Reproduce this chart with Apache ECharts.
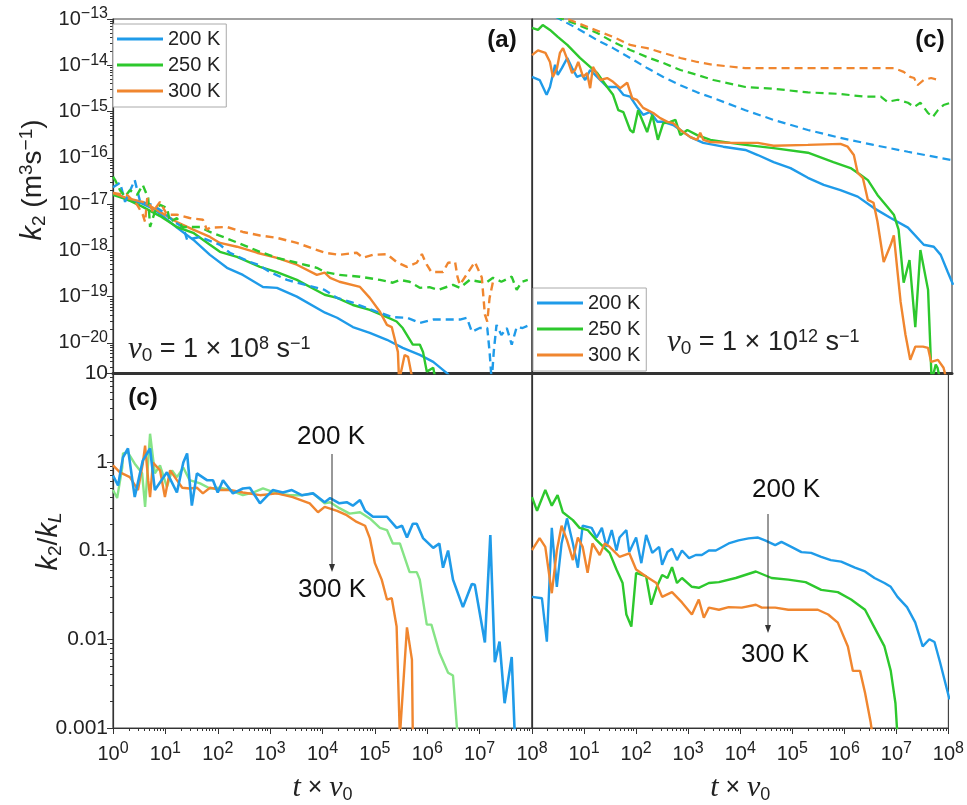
<!DOCTYPE html>
<html>
<head>
<meta charset="utf-8">
<script src="https://cdn.jsdelivr.net/npm/echarts@6/dist/echarts.min.js"></script>
<style>
html, body { margin: 0; padding: 0; background: #fff; }
#chart { width: 967px; height: 805px; }
</style>
</head>
<body>
<div id="chart"></div>
<script>
// temperatures shown in the legends
const temps = ['200 K', '250 K', '300 K'];

// (a) nu0 = 1e8 : solid and dashed k2 curves, [t*nu0, k2 in m^3/s]
const tlSolid200 = [[1,1.74e-17],[1.85,1.23e-17],[3.3,1.07e-17],[5.8,8e-18],[9,5.5e-18],[16.6,3.1e-18],[34,1.7e-18],[71,8e-19],[150,4.2e-19],[302,2.95e-19],[730,1.62e-19],[1350,1.55e-19],[3240,1.0e-19],[1.12e4,4.5e-20],[1.9e4,3.5e-20],[3.8e4,2.2e-20],[8e4,1.65e-20],[1.7e5,1.17e-20],[3.4e5,7.8e-21],[7.2e5,5.5e-21],[1.3e6,3.9e-21],[2.4e6,2.2e-21],[3e6,1.6e-21]];
const tlSolid250 = [[1,1.58e-17],[1.9,1.25e-17],[3.7,8.7e-18],[7.9,5.5e-18],[16.6,3.2e-18],[34,2.4e-18],[71,1.32e-18],[110,9.3e-19],[233,7.2e-19],[640,4.4e-19],[1350,3.4e-19],[3240,2.3e-19],[1.1e4,1.1e-19],[1.9e4,9.4e-20],[3.8e4,6.6e-20],[8e4,5.2e-20],[1.7e5,3.6e-20],[2.6e5,2.9e-20],[3.4e5,2.1e-20],[5.3e5,9.2e-21],[7.2e5,9.2e-21],[8.3e5,6.4e-21],[9.8e5,2.4e-21],[1.3e6,2.9e-21],[1.4e6,1.9e-21]];
const tlSolid300 = [[1,1.74e-17],[1.85,1.35e-17],[3.7,1.12e-17],[7.9,6.8e-18],[16.6,4.1e-18],[34,2.8e-18],[71,1.95e-18],[110,1.45e-18],[233,1.2e-18],[560,8.9e-19],[1350,6.9e-19],[3240,4.9e-19],[7800,2.95e-19],[1.1e4,3.3e-19],[1.4e4,2.55e-19],[2.1e4,2.1e-19],[5.2e4,1.62e-19],[8e4,9.4e-20],[1.25e5,4.7e-20],[1.7e5,2.45e-20],[2.1e5,2.2e-20],[2.75e5,6.4e-21],[2.9e5,1.5e-21],[3.7e5,5.5e-21],[4.3e5,5e-21],[5.3e5,1.5e-21]];
const tlDash200 = [[1,2.3e-17],[1.36,2.9e-17],[1.7,1.12e-17],[2.6,3.3e-17],[3.3,1.12e-17],[5.8,9.6e-18],[9,6.8e-18],[15,4.1e-18],[22,3.1e-18],[26,1.7e-18],[46,1.95e-18],[110,1.32e-18],[170,8.9e-19],[410,5.6e-19],[590,4.9e-19],[1000,3.4e-19],[2100,2.3e-19],[1.1e4,1.4e-19],[1.9e4,9.4e-20],[3.8e4,7.4e-20],[1.1e5,4.7e-20],[2.2e5,3.6e-20],[4.1e5,3.5e-20],[7.2e5,2.7e-20],[1.3e6,3.2e-20],[2.4e6,3.2e-20],[4.2e6,3.2e-20],[5.7e6,3.5e-20],[7.1e6,1.74e-20],[1e7,2.1e-20],[1.4e7,2.1e-20],[1.55e7,6.4e-21],[1.7e7,1.5e-21],[1.86e7,6.4e-21],[2.1e7,2.45e-20],[2.6e7,1.48e-20],[3.3e7,2.1e-20],[4.1e7,9.2e-21],[5.1e7,2.2e-20],[6.6e7,2.1e-20],[9.1e7,2.45e-20]];
const tlDash250 = [[1,3.9e-17],[1.1,3.3e-17],[1.36,2.0e-17],[1.7,1.45e-17],[2.1,2.0e-17],[2.9,1.6e-17],[3.7,2.6e-17],[4.7,1.35e-17],[5.1,3.2e-18],[6.3,6.8e-18],[7.9,9.6e-18],[10.7,8.3e-18],[12.3,4.1e-18],[16.6,5.0e-18],[21,3.2e-18],[46,3.2e-18],[71,2.5e-18],[126,1.95e-18],[302,1.32e-18],[640,9.3e-19],[1350,6.9e-19],[3240,5.4e-19],[7800,4.2e-19],[1.1e4,3.4e-19],[2.1e4,2.95e-19],[5.2e4,2.7e-19],[1.25e5,2.3e-19],[2.2e5,2.0e-19],[3.0e5,2.3e-19],[4.6e5,2.1e-19],[7.2e5,1.55e-19],[1.1e6,1.6e-19],[1.6e6,1.4e-19],[3.1e6,1.8e-19],[4.2e6,1.55e-19],[6.5e6,2.3e-19],[1e7,2.1e-19],[1.4e7,2.1e-19],[1.8e7,2.55e-19],[2.6e7,2.1e-19],[4.1e7,2.7e-19],[5.1e7,1.4e-19],[6.4e7,2.1e-19],[8.3e7,2.3e-19]];
const tlDash300 = [[1,1.74e-17],[1.85,1.58e-17],[2.9,9.6e-18],[3.7,5.9e-18],[4.1,4.1e-18],[4.5,1.35e-17],[5.8,6.8e-18],[7.9,1.12e-17],[10.7,5.9e-18],[16.6,5.9e-18],[29,5.0e-18],[52,4.6e-18],[62,2.8e-18],[71,3.1e-18],[150,3.2e-18],[302,2.5e-18],[640,2.1e-18],[1350,1.86e-18],[3240,1.45e-18],[1.1e4,8.9e-19],[2.1e4,8e-19],[4.5e4,8.9e-19],[5.9e4,6.9e-19],[9.2e4,8e-19],[1.7e5,8.3e-19],[2.6e5,5.6e-19],[4.1e5,4.4e-19],[6.3e5,5.4e-19],[7.9e5,8.3e-19],[9.8e5,4.9e-19],[1.2e6,3.4e-19],[2e6,3.4e-19],[2.5e6,5.4e-19],[3.4e6,5.6e-19],[3.8e6,2.6e-19],[4.2e6,1.8e-19],[8.1e6,5.6e-19],[1.1e7,2.6e-19],[1.26e7,4.1e-20],[1.4e7,2.9e-20],[1.55e7,9.4e-20],[1.8e7,2.1e-19]];

// (c) nu0 = 1e12 : solid and dashed k2 curves
const trSolid200 = [[1,5.6e-15],[1.4,4.8e-15],[1.8,2.6e-15],[1.9,2.3e-15],[2.2,3.4e-15],[2.75,1.02e-14],[3.1,6.2e-15],[3.7,8.7e-15],[4.7,1.44e-14],[5.8,8.7e-15],[7.2,5.6e-15],[9,6.2e-15],[10.3,4.8e-15],[12.8,7.9e-15],[17.4,5.6e-15],[27,3.4e-15],[42,3.4e-15],[55,2.3e-15],[74,2.1e-15],[100,1.26e-15],[131,8.5e-16],[178,9.8e-16],[245,6e-16],[316,6e-16],[490,5.1e-16],[670,4e-16],[1040,2.8e-16],[1830,2.1e-16],[4400,1.74e-16],[1.16e4,1.48e-16],[2e4,1.15e-16],[4e4,8.1e-17],[8.4e4,6e-17],[1.8e5,3.7e-17],[3.6e5,2.6e-17],[7.5e5,2e-17],[1.6e6,1.45e-17],[3.2e6,8.3e-18],[6.8e6,5e-18],[1.45e7,3.1e-18],[2.9e7,1.32e-18],[4.5e7,1.2e-18],[6.1e7,8e-19],[8.3e7,3.4e-19],[1.05e8,1.8e-19]];
const trSolid250 = [[1,6.4e-14],[1.3,5.8e-14],[1.6,7.4e-14],[2.2,5.8e-14],[3.1,4.1e-14],[4.7,2.75e-14],[8.2,1.44e-14],[12.8,9.2e-15],[17.4,6.8e-15],[27,3.4e-15],[35,2.3e-15],[44,1.07e-15],[55,9.7e-16],[74,4e-16],[85,3.5e-16],[105,1.07e-15],[156,3.6e-16],[195,8.5e-16],[250,2.45e-16],[316,5.6e-16],[430,6e-16],[540,6.6e-16],[670,3.1e-16],[910,4e-16],[1400,3.1e-16],[2500,2.45e-16],[6000,2.1e-16],[1.16e4,1.9e-16],[4e4,1.62e-16],[1.8e5,1.29e-16],[5.5e5,8.1e-17],[1.17e6,6e-17],[1.8e6,4.3e-17],[2.5e6,3.3e-17],[3.8e6,1.58e-17],[5.9e6,8.7e-18],[7.8e6,5.9e-18],[9.6e6,2.8e-18],[1.2e7,2e-19],[1.55e7,6.2e-19],[2.0e7,2.2e-20],[2.5e7,1.02e-18],[3.5e7,1.4e-19],[4.1e7,1.5e-21],[4.9e7,3.4e-21],[5.3e7,2.9e-21],[6e7,1.5e-21]];
const trSolid300 = [[1,1.66e-14],[1.3,2.1e-14],[1.8,1.85e-14],[2.2,1.18e-14],[2.5,5.6e-15],[3.0,8.7e-15],[3.4,1.85e-14],[3.9,2.35e-14],[4.9,1.18e-14],[5.8,6.8e-15],[6.6,7.9e-15],[7.6,1.18e-14],[9.4,5.6e-15],[11.2,6.8e-15],[12.8,3.2e-15],[14.5,9.2e-15],[20,4.8e-15],[27,5.3e-15],[35,4.4e-15],[48,3.2e-15],[65,4.2e-15],[81,1.95e-15],[100,1.78e-15],[131,1.2e-15],[204,9.3e-16],[277,7.2e-16],[380,6e-16],[490,5.6e-16],[670,4e-16],[1040,2.8e-16],[1400,2.45e-16],[1600,3.5e-16],[1830,2.45e-16],[2500,2.2e-16],[6000,2.1e-16],[1.16e4,2.1e-16],[2e4,2.1e-16],[4e4,1.82e-16],[1.8e5,1.9e-16],[7.5e5,2e-16],[1.03e6,1.74e-16],[1.35e6,1.15e-16],[1.6e6,4.7e-17],[2e6,3.7e-17],[2.5e6,1.23e-17],[3.2e6,1.07e-17],[3.8e6,4.2e-18],[5e6,5.6e-19],[6.8e6,1.32e-18],[7.8e6,2.1e-18],[9.3e6,2.95e-19],[1.05e7,7.7e-20],[1.3e7,1.5e-20],[1.6e7,4.3e-21],[2e7,8.3e-21],[2.8e7,8.3e-21],[3.5e7,7.8e-21],[4e7,3.9e-21],[5.4e7,4.3e-21],[6.9e7,2.9e-21],[8e7,1.5e-21]];
const trDash200 = [[1,2.1e-13],[3.1,1.05e-13],[8.2,5.8e-14],[17.4,3.5e-14],[35,2.35e-14],[74,1.44e-14],[156,8.7e-15],[316,5.6e-15],[670,3.7e-15],[1400,2.6e-15],[2850,1.95e-15],[1.16e4,1.07e-15],[4e4,6.6e-16],[1.8e5,4e-16],[7.5e5,2.7e-16],[3.2e6,1.9e-16],[1.45e7,1.35e-16],[9.5e7,9e-17]];
const trDash250 = [[1,1.8e-13],[6.1,8.2e-14],[17.4,5e-14],[35,3.2e-14],[74,2.15e-14],[156,1.5e-14],[316,1.12e-14],[670,7.9e-15],[1400,6.2e-15],[2850,4.8e-15],[1.16e4,3.4e-15],[4e4,3.1e-15],[1.8e5,2.6e-15],[7.5e5,2.4e-15],[2.1e6,2.1e-15],[4.4e6,2.1e-15],[5.9e6,1.62e-15],[9.3e6,1.8e-15],[1.45e7,1.55e-15],[1.9e7,1.26e-15],[2.5e7,1.55e-15],[3.5e7,9.3e-16],[4.3e7,7.6e-16],[5.4e7,1.07e-15],[6.9e7,1.38e-15],[9.5e7,1.55e-15]];
const trDash300 = [[1,2e-13],[5.3,9.5e-14],[12.8,6.4e-14],[35,4.1e-14],[74,2.75e-14],[156,2.35e-14],[316,1.85e-14],[670,1.44e-14],[1400,1.18e-14],[2850,1.02e-14],[1.16e4,8.7e-15],[4e4,8.7e-15],[1.8e5,8.7e-15],[7.5e5,8.7e-15],[3.2e6,8.7e-15],[7.8e6,8.7e-15],[1.2e7,7.2e-15],[1.6e7,5.6e-15],[1.9e7,5.3e-15],[2.2e7,3.7e-15],[2.9e7,4.8e-15],[4e7,5.3e-15],[5.6e7,4.8e-15]];

// k2/kL ratio, nu0 = 1e8
const bl200 = [[1,0.70],[1.25,0.54],[1.55,1.12],[1.93,1.41],[2.6,0.40],[3.7,1.03],[5.1,1.41],[6.3,0.48],[10.7,0.76],[16.6,0.45],[22,0.98],[26,1.24],[32,0.32],[40,0.74],[62,0.62],[81,0.62],[100,0.45],[126,0.62],[195,0.44],[302,0.50],[410,0.51],[640,0.34],[1120,0.48],[1750,0.45],[2600,0.48],[4000,0.42],[6600,0.44],[1.1e4,0.35],[1.4e4,0.39],[2.1e4,0.34],[2.9e4,0.35],[3.8e4,0.32],[5.2e4,0.37],[6.5e4,0.28],[9.2e4,0.24],[1.7e5,0.24],[2.6e5,0.18],[3.3e5,0.19],[4.1e5,0.14],[5.3e5,0.20],[6.3e5,0.20],[8.3e5,0.138],[1.3e6,0.107],[1.7e6,0.12],[2e6,0.064],[2.5e6,0.10],[3.1e6,0.047],[4.8e6,0.023],[7.1e6,0.042],[8.1e6,0.041],[1.26e7,0.0092],[1.6e7,0.149],[1.95e7,0.0055],[2.4e7,0.0094],[3e7,0.0019],[4.1e7,0.0063],[4.7e7,0.0008]];
const bl250 = [[1,0.48],[1.2,0.39],[1.5,0.86],[1.55,1.24],[1.93,1.27],[2.6,0.95],[3.6,0.74],[4.1,0.31],[5.1,2.07],[6.3,0.74],[7.9,0.91],[10.7,0.52],[13.4,0.80],[16.6,0.67],[22,0.86],[29,0.62],[46,0.57],[71,0.50],[110,0.51],[170,0.48],[302,0.42],[470,0.45],[730,0.50],[1350,0.44],[2400,0.42],[4200,0.42],[6600,0.44],[1.1e4,0.34],[1.4e4,0.35],[2.1e4,0.30],[3.3e4,0.26],[5.2e4,0.27],[8e4,0.23],[1.25e5,0.18],[1.7e5,0.17],[2.2e5,0.12],[3e5,0.12],[4.6e5,0.057],[6.3e5,0.057],[7.2e5,0.047],[9.8e5,0.0146],[1.2e6,0.0146],[1.7e6,0.0071],[2.5e6,0.0042],[3.1e6,0.0039],[3.8e6,0.0008]];
const bl300 = [[1,0.91],[1.36,0.76],[2.1,0.67],[3.0,0.48],[3.7,0.95],[4.1,1.52],[4.7,0.62],[5.1,0.40],[5.8,0.98],[7.9,0.80],[9.8,0.40],[12.3,0.80],[16.6,0.62],[21,0.51],[29,0.50],[40,0.51],[52,0.44],[71,0.51],[110,0.48],[170,0.48],[302,0.45],[640,0.42],[1350,0.44],[2700,0.40],[5700,0.34],[8200,0.27],[1.1e4,0.31],[1.9e4,0.28],[2.9e4,0.25],[4.5e4,0.21],[6.5e4,0.19],[8e4,0.138],[1e5,0.072],[1.35e5,0.047],[1.7e5,0.028],[2.1e5,0.029],[2.6e5,0.0139],[3e5,0.0008],[4.1e5,0.0136],[5.1e5,0.0059],[5.3e5,0.0008]];

// k2/kL ratio, nu0 = 1e12
const br200 = [[1,0.030],[1.55,0.029],[1.93,0.0094],[2.4,0.18],[3.0,0.039],[3.7,0.12],[4.7,0.23],[6.1,0.12],[7.6,0.064],[9.4,0.19],[14,0.18],[17.4,0.14],[22,0.18],[27,0.11],[34,0.17],[42,0.10],[48,0.14],[65,0.17],[74,0.096],[100,0.14],[126,0.072],[156,0.15],[204,0.094],[277,0.11],[316,0.069],[400,0.096],[490,0.105],[610,0.078],[760,0.10],[1040,0.082],[1400,0.089],[1830,0.089],[2500,0.10],[3400,0.10],[6000,0.12],[9300,0.13],[1.45e4,0.137],[2.2e4,0.14],[3e4,0.13],[4.7e4,0.115],[6.2e4,0.125],[9.6e4,0.11],[1.5e5,0.096],[2.3e5,0.094],[3.6e5,0.085],[5.5e5,0.078],[8.7e5,0.075],[1.6e6,0.064],[2.5e6,0.058],[3.8e6,0.049],[5.9e6,0.043],[7.8e6,0.039],[1.05e7,0.030],[1.6e7,0.023],[2.3e7,0.0155],[3.2e7,0.0083],[4.3e7,0.0100],[5.4e7,0.0093],[6.9e7,0.0055],[1.05e8,0.0021]];
const br250 = [[1,0.40],[1.25,0.28],[1.8,0.48],[2.4,0.32],[3.1,0.42],[3.9,0.27],[6.1,0.22],[8.2,0.18],[11.7,0.17],[17.4,0.131],[31,0.094],[42,0.061],[55,0.043],[65,0.019],[81,0.0139],[100,0.056],[156,0.051],[195,0.0245],[250,0.039],[316,0.053],[400,0.049],[490,0.065],[610,0.043],[760,0.049],[1180,0.039],[1600,0.038],[2500,0.043],[3900,0.044],[8200,0.049],[2e4,0.058],[4e4,0.049],[8.4e4,0.047],[1.8e5,0.044],[3.6e5,0.036],[7.5e5,0.034],[1.35e6,0.028],[2.5e6,0.0215],[3.8e6,0.0135],[5.9e6,0.0083],[7.8e6,0.0044],[9.6e6,0.0019],[1.05e7,0.0008]];
const br300 = [[1,0.101],[1.4,0.138],[1.8,0.11],[2.4,0.033],[3.0,0.10],[3.7,0.19],[4.7,0.131],[6.1,0.078],[7.6,0.14],[9.4,0.11],[11.7,0.056],[14.5,0.12],[20,0.089],[25,0.12],[31,0.11],[48,0.085],[74,0.093],[100,0.061],[156,0.051],[245,0.043],[316,0.030],[490,0.034],[760,0.026],[1180,0.019],[1600,0.028],[2000,0.0175],[2500,0.0227],[3900,0.0215],[6000,0.023],[1.07e4,0.0227],[2e4,0.0245],[2.6e4,0.0227],[4.7e4,0.0227],[8.4e4,0.0215],[1.8e5,0.0215],[3.1e5,0.0215],[4.9e5,0.019],[7.5e5,0.0154],[1.17e6,0.0083],[1.46e6,0.0044],[2e6,0.0044],[2.5e6,0.0025],[3.2e6,0.00117],[3.5e6,0.0008]];

const FONT = 'Liberation Sans, Arial, sans-serif';
const SERIF = 'Liberation Serif, Times New Roman, serif';
const INK = '#222';
const C200 = '#1f9be9', C250 = '#2dc82d', C300 = '#f0862f', C250L = '#86e486';

// the k2 axes work in units of 1e-21 m^3/s so that tick maths stays well inside float precision;
// labels put the exponent back
const K_UNIT_EXP = -21;
const toUnit = d => d.map(p => [p[0], p[1] / Math.pow(10, K_UNIT_EXP)]);

const chart = echarts.init(document.getElementById('chart'));

function isPow(v) {
    const e = Math.log10(v);
    return Math.abs(e - Math.round(e)) < 1e-6 ? Math.round(e) : null;
}
function expText(r) { return r < 0 ? '\u2212' + (-r) : String(r); }
function powLabel(v) {
    const r = isPow(v);
    return r === null ? '' : '{b|10}{s|' + expText(r) + '}';
}
function kLabel(v) {
    const r = isPow(v);
    return r === null ? '' : '{b|10}{s|' + expText(r + K_UNIT_EXP) + '}';
}
function decLabel(v) {
    const r = isPow(v);
    if (r === null) return '';
    return r >= 0 ? String(Math.pow(10, r)) : Math.pow(10, r).toFixed(-r);
}
const labRich = {
    b: { fontSize: 20, fontFamily: FONT, color: INK, lineHeight: 26 },
    s: { fontSize: 16, fontFamily: FONT, color: INK, lineHeight: 15, verticalAlign: 'top' }
};
const tick = { show: true, length: 6, lineStyle: { color: '#333', width: 1 } };
const minor = { show: true, splitNumber: 9, length: 3, lineStyle: { color: '#333', width: 1 } };

function logAxis(grid, min, max, extra) {
    return Object.assign({
        type: 'log', logBase: 10, gridIndex: grid, min: min, max: max,
        axisLine: { show: true, onZero: false, lineStyle: { color: '#333', width: 1.2 } },
        axisTick: { show: false }, minorTick: { show: false },
        splitLine: { show: false }, minorSplitLine: { show: false },
        axisLabel: { show: false }
    }, extra || {});
}

function line(name, data, color, idx, dashed, width) {
    return {
        type: 'line', name: name, data: data, xAxisIndex: idx, yAxisIndex: idx,
        symbol: 'none', silent: true, clip: true, animation: false,
        lineStyle: { color: color, width: width || 2.4, type: dashed ? [8, 5] : 'solid' },
        itemStyle: { color: color }
    };
}

// k2 axis range in 1e-21 units: 10^-20.65 .. 10^-13
const topMin = Math.pow(10, 0.35), topMax = 1e8;

const nameRich = {
    k: { fontSize: 29, fontStyle: 'italic', fontFamily: FONT, color: INK, lineHeight: 32 },
    n: { fontSize: 28, fontFamily: FONT, color: INK, lineHeight: 32 },
    sub: { fontSize: 19, fontFamily: FONT, color: INK, lineHeight: 19, verticalAlign: 'bottom' },
    subi: { fontSize: 19, fontStyle: 'italic', fontFamily: FONT, color: INK, lineHeight: 19, verticalAlign: 'bottom' },
    sup: { fontSize: 19, fontFamily: FONT, color: INK, lineHeight: 19, verticalAlign: 'top' }
};
const xNameRich = {
    t: { fontSize: 30, fontStyle: 'italic', fontFamily: SERIF, color: INK, lineHeight: 32 },
    n: { fontSize: 25, fontFamily: FONT, color: INK, lineHeight: 32 },
    sub: { fontSize: 18, fontFamily: FONT, color: INK, lineHeight: 18, verticalAlign: 'bottom' }
};
const xName = '{t|t}{n| \u00d7 }{t|\u03bd}{sub|0}';

const nuRich = {
    v: { fontSize: 31, fontStyle: 'italic', fontFamily: SERIF, fill: INK, lineHeight: 30 },
    n: { fontSize: 27, fontFamily: FONT, fill: INK, lineHeight: 30 },
    sub: { fontSize: 19, fontFamily: FONT, fill: INK, lineHeight: 18, verticalAlign: 'bottom' },
    sup: { fontSize: 18, fontFamily: FONT, fill: INK, lineHeight: 17, verticalAlign: 'top' }
};

function txt(x, y, text, size, bold, align) {
    return { type: 'text', x: x, y: y, z: 10, style: {
        text: text, fontSize: size, fontFamily: FONT, fontWeight: bold ? 'bold' : 'normal',
        fill: '#111', align: align || 'center', verticalAlign: 'middle' } };
}
function arrow(x, y1, y2) {
    return [
        { type: 'line', z: 10, shape: { x1: x, y1: y1, x2: x, y2: y2 - 6 }, style: { stroke: '#333', lineWidth: 1 } },
        { type: 'polygon', z: 10, shape: { points: [[x - 3, y2 - 8], [x + 3, y2 - 8], [x, y2]] }, style: { fill: '#333' } }
    ];
}

const legendBase = {
    data: temps, orient: 'vertical', icon: 'rect', itemWidth: 46, itemHeight: 3, itemGap: 4,
    padding: [4, 6, 5, 4], borderColor: '#aaa', borderWidth: 1, backgroundColor: '#fff',
    textStyle: { fontSize: 20, fontFamily: FONT, color: INK, lineHeight: 22 },
    selectedMode: false, z: 8
};

const option = {
    animation: false,
    backgroundColor: '#fff',
    grid: [
        { left: 113, top: 19, width: 419, height: 354, show: true, borderColor: '#444', borderWidth: 1.2, backgroundColor: 'transparent' },
        { left: 532, top: 19, width: 420, height: 354, show: true, borderColor: '#444', borderWidth: 1.2, backgroundColor: 'transparent' },
        { left: 113, top: 373, width: 419, height: 356, show: true, borderColor: '#444', borderWidth: 1.2, backgroundColor: 'transparent' },
        { left: 532, top: 373, width: 420, height: 356, show: true, borderColor: '#444', borderWidth: 1.2, backgroundColor: 'transparent' }
    ],
    xAxis: [
        logAxis(0, 1, 1e8, { axisLine: { show: true, onZero: false, lineStyle: { color: '#333', width: 3 } } }),
        logAxis(1, 1, 1e8, { axisLine: { show: true, onZero: false, lineStyle: { color: '#333', width: 3 } } }),
        logAxis(2, 1, 1e8, {
            axisTick: tick, minorTick: minor,
            axisLabel: { show: true, formatter: powLabel, rich: labRich, margin: 13 },
            name: xName, nameLocation: 'middle', nameGap: 44, nameTextStyle: { rich: xNameRich }
        }),
        logAxis(3, 1, 1e8, {
            axisTick: tick, minorTick: minor,
            axisLabel: { show: true, formatter: powLabel, rich: labRich, margin: 13, showMinLabel: false },
            name: xName, nameLocation: 'middle', nameGap: 44, nameTextStyle: { rich: xNameRich }
        })
    ],
    yAxis: [
        logAxis(0, topMin, topMax, {
            axisTick: tick, minorTick: minor,
            axisLabel: { show: true, formatter: kLabel, rich: labRich, margin: 5 },
            name: '{k|k}{sub|2}{n| (m}{sup|3}{n|s}{sup|\u22121}{n|)}',
            nameLocation: 'middle', nameRotate: 90, nameGap: 64, nameMoveOverlap: false,
            nameTextStyle: { rich: nameRich, padding: [0, 0, 0, 32] }
        }),
        logAxis(1, topMin, topMax),
        logAxis(2, 1e-3, 10, {
            axisTick: tick, minorTick: minor,
            axisLabel: { show: true, formatter: decLabel, fontSize: 21, fontFamily: FONT, color: INK, margin: 5 },
            name: '{k|k}{sub|2}{n|/}{k|k}{subi|L}',
            nameLocation: 'middle', nameRotate: 90, nameGap: 48, nameMoveOverlap: false,
            nameTextStyle: { rich: nameRich, padding: [0, 0, 0, 18] }
        }),
        logAxis(3, 1e-3, 10)
    ],
    legend: [
        Object.assign({}, legendBase, { left: 113, top: 24 }),
        Object.assign({}, legendBase, { left: 533, top: 288 })
    ],
    series: [
        line('200 K', toUnit(tlSolid200), C200, 0),
        line('250 K', toUnit(tlSolid250), C250, 0),
        line('300 K', toUnit(tlSolid300), C300, 0),
        line('200 K dashed', toUnit(tlDash200), C200, 0, true),
        line('250 K dashed', toUnit(tlDash250), C250, 0, true),
        line('300 K dashed', toUnit(tlDash300), C300, 0, true),
        line('200 K', toUnit(trSolid200), C200, 1),
        line('250 K', toUnit(trSolid250), C250, 1),
        line('300 K', toUnit(trSolid300), C300, 1),
        line('200 K dashed', toUnit(trDash200), C200, 1, true, 2.2),
        line('250 K dashed', toUnit(trDash250), C250, 1, true, 2.2),
        line('300 K dashed', toUnit(trDash300), C300, 1, true, 2.2),
        line('250 K ratio', bl250, C250L, 2),
        line('300 K ratio', bl300, C300, 2),
        line('200 K ratio', bl200, C200, 2, false, 2.6),
        line('200 K ratio', br200, C200, 3),
        line('250 K ratio', br250, C250, 3),
        line('300 K ratio', br300, C300, 3)
    ],
    graphic: [
        txt(502, 40, '(a)', 24, true),
        txt(930, 40, '(c)', 24, true),
        txt(143, 398, '(c)', 24, true),
        { type: 'text', x: 128, y: 350, z: 10, style: {
            text: '{v|\u03bd}{sub|0}{n| = 1 \u00d7 10}{sup|8}{n| s}{sup|\u22121}', rich: nuRich,
            align: 'left', verticalAlign: 'middle' } },
        { type: 'text', x: 667, y: 343, z: 10, style: {
            text: '{v|\u03bd}{sub|0}{n| = 1 \u00d7 10}{sup|12}{n| s}{sup|\u22121}', rich: nuRich,
            align: 'left', verticalAlign: 'middle' } },
        txt(331, 437, '200 K', 26),
        txt(332, 590, '300 K', 26),
        txt(786, 490, '200 K', 26),
        txt(775, 655, '300 K', 26)
    ].concat(arrow(332, 454, 572), arrow(768, 514, 633))
};

chart.setOption(option);
</script>
</body>
</html>
